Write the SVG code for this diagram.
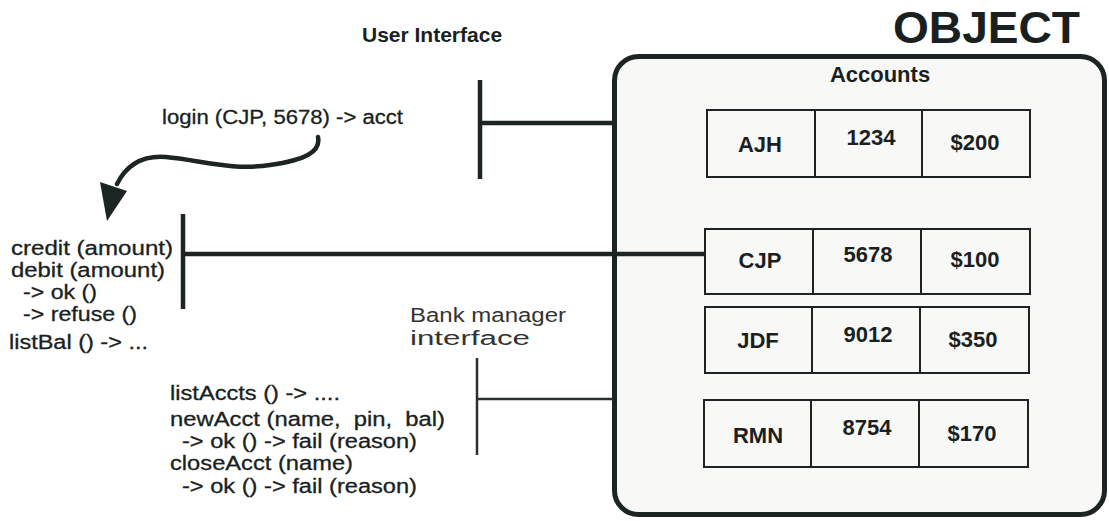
<svg xmlns="http://www.w3.org/2000/svg" width="1109" height="521" viewBox="0 0 1109 521">
<defs>
<style>
.reg{font-family:"Liberation Sans",Arial,sans-serif;font-size:20px;fill:#1a1f1f;stroke:#1a1f1f;stroke-width:0.3}
.light{font-family:"Liberation Sans",Arial,sans-serif;font-size:20px;fill:#333}
.bold{font-family:"Liberation Sans",Arial,sans-serif;font-weight:bold;fill:#1a1f1f}
.cell{font-family:"Liberation Sans",Arial,sans-serif;font-weight:bold;font-size:22px;fill:#1a1f1f;text-anchor:middle}
.row{fill:none;stroke:#1e2424;stroke-width:2}
.bar{stroke:#1c2424;stroke-width:4.5;fill:none;stroke-linecap:butt}
.thin{stroke:#2a3030;stroke-width:2.5;fill:none}
</style>
</defs>
<rect width="1109" height="521" fill="#ffffff"/>

<g id="object">
<rect x="614.5" y="56.5" width="490" height="458" rx="24" ry="24" fill="#f8f8f6" stroke="#1c2424" stroke-width="5"/>
<text class="bold" x="893" y="43" font-size="44" textLength="187" lengthAdjust="spacingAndGlyphs">OBJECT</text>
<text class="bold" x="880" y="82" font-size="22" text-anchor="middle">Accounts</text>
</g>

<g id="row-ajh">
<rect class="row" x="707" y="110" width="323" height="67"/>
<line class="row" x1="815" y1="110" x2="815" y2="177"/>
<line class="row" x1="922" y1="110" x2="922" y2="177"/>
<text class="cell" x="760" y="152">AJH</text>
<text class="cell" x="871" y="145">1234</text>
<text class="cell" x="975" y="150">$200</text>
</g>

<g id="row-cjp">
<rect class="row" x="705" y="229" width="325" height="65"/>
<line class="row" x1="813" y1="229" x2="813" y2="294"/>
<line class="row" x1="921" y1="229" x2="921" y2="294"/>
<text class="cell" x="760" y="268">CJP</text>
<text class="cell" x="868" y="262">5678</text>
<text class="cell" x="975" y="267">$100</text>
</g>

<g id="row-jdf">
<rect class="row" x="705" y="307" width="324" height="66"/>
<line class="row" x1="812" y1="307" x2="812" y2="373"/>
<line class="row" x1="920" y1="307" x2="920" y2="373"/>
<text class="cell" x="758" y="348">JDF</text>
<text class="cell" x="868" y="342">9012</text>
<text class="cell" x="973" y="347">$350</text>
</g>

<g id="row-rmn">
<rect class="row" x="704" y="400" width="324" height="67"/>
<line class="row" x1="811" y1="400" x2="811" y2="467"/>
<line class="row" x1="919" y1="400" x2="919" y2="467"/>
<text class="cell" x="758" y="443">RMN</text>
<text class="cell" x="867" y="435">8754</text>
<text class="cell" x="972" y="441">$170</text>
</g>

<g id="user-interface">
<text class="bold" x="362" y="42" font-size="21">User Interface</text>
<text class="reg" x="162" y="124" textLength="241" lengthAdjust="spacingAndGlyphs">login (CJP, 5678) -&gt; acct</text>
</g>

<g id="account-interface">
<text class="reg" x="11" y="255" textLength="162" lengthAdjust="spacingAndGlyphs">credit (amount)</text>
<text class="reg" x="11" y="277" textLength="154" lengthAdjust="spacingAndGlyphs">debit (amount)</text>
<text class="reg" x="23" y="299" textLength="74" lengthAdjust="spacingAndGlyphs">-&gt; ok ()</text>
<text class="reg" x="23" y="321" textLength="114" lengthAdjust="spacingAndGlyphs">-&gt; refuse ()</text>
<text class="reg" x="9" y="349" textLength="139" lengthAdjust="spacingAndGlyphs">listBal () -&gt; ...</text>
</g>

<g id="bank-manager-interface">
<text class="light" x="410" y="322" textLength="156" lengthAdjust="spacingAndGlyphs">Bank manager</text>
<text class="light" x="410" y="345" textLength="120" lengthAdjust="spacingAndGlyphs">interface</text>
<text class="reg" x="170" y="400" textLength="170" lengthAdjust="spacingAndGlyphs">listAccts () -&gt; ....</text>
<text class="reg" x="170" y="426" textLength="275" lengthAdjust="spacingAndGlyphs" xml:space="preserve">newAcct (name,  pin,  bal)</text>
<text class="reg" x="182" y="448" textLength="235" lengthAdjust="spacingAndGlyphs">-&gt; ok () -&gt; fail (reason)</text>
<text class="reg" x="170" y="470" textLength="183" lengthAdjust="spacingAndGlyphs">closeAcct (name)</text>
<text class="reg" x="182" y="493" textLength="235" lengthAdjust="spacingAndGlyphs">-&gt; ok () -&gt; fail (reason)</text>
</g>

<g id="connectors">
<line class="bar" x1="480" y1="80" x2="480" y2="179"/>
<line class="bar" x1="480" y1="123" x2="613" y2="123"/>
<line class="bar" x1="183" y1="214" x2="183" y2="309"/>
<line class="bar" x1="183" y1="254" x2="706" y2="254"/>
<line class="thin" x1="477" y1="358" x2="477" y2="455"/>
<line class="thin" x1="477" y1="399" x2="613" y2="399" stroke-width="2"/>
<path d="M318,137 C321,152 305,160 270,165 C232,171 200,160 166,157 C140,155 125,168 117,184" fill="none" stroke="#1c2424" stroke-width="4.5" stroke-linecap="round"/>
<polygon points="100,182 127,191 107,221" fill="#1c2424"/>
</g>
</svg>
